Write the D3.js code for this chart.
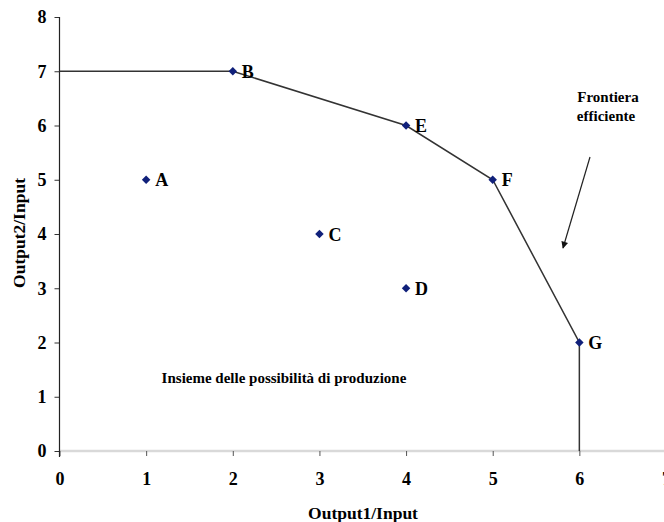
<!DOCTYPE html>
<html><head><meta charset="utf-8">
<script src="https://cdn.jsdelivr.net/npm/d3@7"></script>
<style>body{margin:0;background:#fff}svg{display:block}text{font-family:"Liberation Serif","Times New Roman",serif;font-weight:bold}</style>
</head><body><svg id="c" width="664" height="522"></svg>
<script>
const pointNames = ["A","B","C","D","E","F","G"];
const pointX = [1,2,3,4,4,5,6];
const pointY = [5,7,4,3,6,5,2];
const frontierX = [0,2,4,5,6,6];
const frontierY = [7,7,6,5,2,0];
const xTicks = [0,1,2,3,4,5,6,7];
const yTicks = [0,1,2,3,4,5,6,7,8];

const svg = d3.select("#c");
const x = d3.scaleLinear().domain([0,7]).range([59.5,666]);
const y = d3.scaleLinear().domain([0,8]).range([451,17]);

// x axis
svg.append("line").attr("x1",59).attr("x2",664).attr("y1",451).attr("y2",451)
  .attr("stroke","#d9d9d9").attr("stroke-width",2.5);
const xg = svg.append("g").attr("transform","translate(0,451)")
  .call(d3.axisBottom(x).tickValues(xTicks).tickSize(5).tickPadding(16).tickFormat(d3.format("d")));
xg.select(".domain").remove();
xg.selectAll("line").attr("stroke","#555");
xg.selectAll("text").attr("font-size",18).attr("fill","#000").attr("font-family","Liberation Serif").attr("font-weight","bold");

// y axis
const yg = svg.append("g").attr("transform","translate(59.5,0)")
  .call(d3.axisLeft(y).tickValues(yTicks).tickSize(5).tickPadding(8).tickFormat(d3.format("d")));
yg.select(".domain").remove();
yg.selectAll("line").attr("stroke","#333");
yg.selectAll("text").attr("font-size",18).attr("fill","#000").attr("font-family","Liberation Serif").attr("font-weight","bold");
svg.append("line").attr("x1",59.5).attr("x2",59.5).attr("y1",17).attr("y2",457)
  .attr("stroke","#222").attr("stroke-width",1.2);

// frontier
const fr = frontierX.map((d,i)=>[d,frontierY[i]]);
svg.append("path").attr("d",d3.line().x(d=>x(d[0])).y(d=>y(d[1]))(fr))
  .attr("fill","none").attr("stroke","#333").attr("stroke-width",1.5);

// points
const pts = pointNames.map((n,i)=>({n,x:pointX[i],y:pointY[i]}));
svg.selectAll("path.pt").data(pts).enter().append("path").attr("class","pt")
  .attr("d",d3.symbol(d3.symbolDiamond2,46)())
  .attr("transform",d=>`translate(${x(d.x)},${y(d.y)})`)
  .attr("fill","#10207a");
svg.selectAll("text.lbl").data(pts).enter().append("text").attr("class","lbl")
  .attr("x",d=>x(d.x)+9).attr("y",d=>y(d.y)+6.5)
  .attr("font-size",18).attr("fill","#000").text(d=>d.n);

// annotations
svg.append("text").attr("x",284).attr("y",383).attr("text-anchor","middle")
  .attr("font-size",15).text("Insieme delle possibilità di produzione");
svg.append("text").attr("x",608).attr("y",102).attr("text-anchor","middle")
  .attr("font-size",15).text("Frontiera");
svg.append("text").attr("x",606).attr("y",121).attr("text-anchor","middle")
  .attr("font-size",15).text("efficiente");

svg.append("defs").append("marker").attr("id","ah").attr("viewBox","0 0 10 10")
  .attr("refX",9).attr("refY",5).attr("markerWidth",8).attr("markerHeight",7)
  .attr("markerUnits","userSpaceOnUse").attr("orient","auto")
  .append("path").attr("d","M0,0L10,5L0,10z").attr("fill","#111");
svg.append("line").attr("x1",590).attr("y1",157).attr("x2",563).attr("y2",248)
  .attr("stroke","#222").attr("stroke-width",1.2).attr("marker-end","url(#ah)");

// axis titles
svg.append("text").attr("x",363).attr("y",519).attr("text-anchor","middle")
  .attr("font-size",17.5).text("Output1/Input");
svg.append("text").attr("transform","translate(25,233) rotate(-90)").attr("text-anchor","middle")
  .attr("font-size",17.5).text("Output2/Input");
</script></body></html>
